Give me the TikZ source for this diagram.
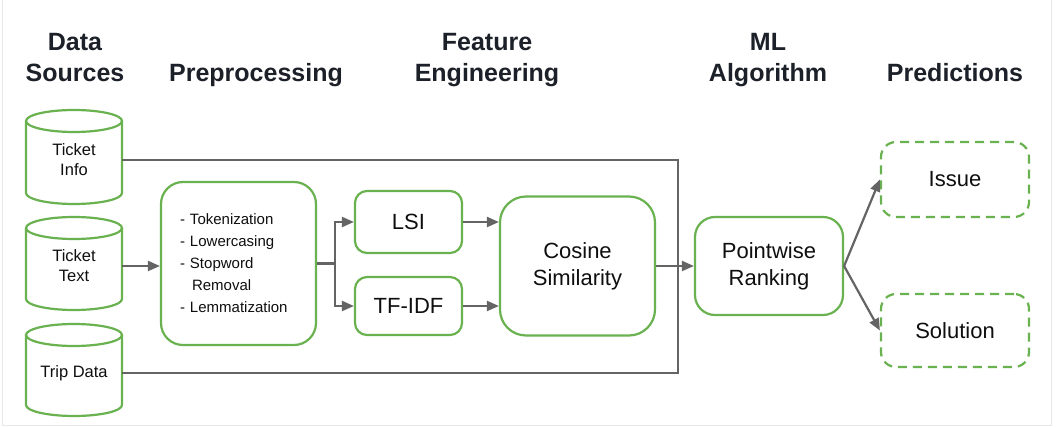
\documentclass[tikz,border=0pt]{standalone}
\usepackage{fontspec}
\setmainfont{Liberation Sans}
\usetikzlibrary{arrows.meta}
\definecolor{gr}{RGB}{106,178,80}
\definecolor{lnc}{RGB}{100,100,100}
\definecolor{ttl}{RGB}{28,32,40}
\definecolor{txt}{RGB}{15,15,15}
\newcommand\mycyl[3]{%
  \draw[cylline] (#1,#2+11) ellipse [x radius=48pt,y radius=11pt];
  \draw[cylline] (#1-48,#2+11) -- (#1-48,#3-11) arc[start angle=180,end angle=360,x radius=48pt,y radius=11pt] -- (#1+48,#2+11);}
\begin{document}
\begin{tikzpicture}[x=1pt,y=-1pt,
  cylline/.style={draw=gr, line width=2.2pt},
  cyltext/.style={minimum width=96pt, inner sep=0pt, align=center, text=txt, font=\fontsize{16.5}{20}\selectfont},
  gbox/.style={draw=gr, line width=2.2pt, rounded corners=#1, align=center, inner sep=0pt, text=txt, font=\fontsize{22}{27}\selectfont},
  gbox/.default=15pt,
  dbox/.style={gbox=#1, dash pattern=on 9pt off 6pt},
  dbox/.default=15pt,
  title/.style={anchor=south, inner sep=0pt, text depth=0pt, align=center, text=ttl, font=\fontsize{25}{31}\selectfont\bfseries},
  lnk/.style={draw=lnc, line width=2.2pt},
  arr/.style={lnk, -{Triangle[length=12pt,width=10pt]}}]
\useasboundingbox (0,0) rectangle (1057,427);
\fill[white] (0,0) rectangle (1057,427);
% screenshot frame
\draw[gray!18, line width=1pt] (2.5,0) -- (2.5,425) -- (1051.5,425) -- (1051.5,0);

% titles
\node[title] (t1) at (75,82) {Data\\Sources};
\node[title] (t2) at (256,82) {Preprocessing};
\node[title] (t3) at (487,82) {Feature\\Engineering};
\node[title] (t4) at (768,82) {ML\\Algorithm};
\node[title] (t5) at (955,82) {Predictions};

% data sources
\mycyl{74}{110}{204}
\mycyl{74}{217}{310}
\mycyl{74}{324}{416}
\node[cyltext] (ti) at (74,160) {Ticket\\Info};
\node[cyltext] (tt) at (74,266) {Ticket\\Text};
\node[cyltext] (td) at (74,373) {Trip Data};

% preprocessing
\node[gbox=22pt, minimum height=163pt, text width=117pt, inner xsep=19pt, align=left,
      font=\fontsize{15}{22}\selectfont] (pre) at (238.5,263.5)
  {- Tokenization\\- Lowercasing\\- Stopword\\\hspace*{12pt}Removal\\- Lemmatization};

% feature engineering
\node[gbox=12pt, minimum width=107pt, minimum height=62pt] (lsi) at (408.5,222) {LSI};
\node[gbox=12pt, minimum width=107pt, minimum height=58pt] (tfidf) at (408.5,306) {TF-IDF};
\node[gbox=26pt, minimum width=155pt, minimum height=139pt] (cos) at (577.5,266) {Cosine\\Similarity};

% ML algorithm
\node[gbox=20pt, minimum width=148pt, minimum height=98pt] (pw) at (769,266) {Pointwise\\Ranking};

% predictions
\node[dbox=15pt, minimum width=148pt, minimum height=75pt] (iss) at (955,179.5) {Issue};
\node[dbox=15pt, minimum width=148pt, minimum height=73pt] (sol) at (955,330.5) {Solution};

% connectors
\coordinate (bx) at (678,0);
\coordinate (sp) at (335,263.5);
\draw[lnk] (ti.east) -- (ti.east -| bx) -- (td.east -| bx) -- (td.east);
\draw[arr] (tt.east) -- (tt.east -| pre.west);
\draw[lnk] (pre.east) -- (sp);
\draw[arr] (sp) |- (lsi.west);
\draw[arr] (sp) |- (tfidf.west);
\draw[arr] (lsi.east) -- (lsi.east -| cos.west);
\draw[arr] (tfidf.east) -- (tfidf.east -| cos.west);
\draw[arr] (cos.east) -- (pw.west);
\draw[arr] (pw.east) -- (iss.west);
\draw[arr] (pw.east) -- (sol.west);
\end{tikzpicture}
\end{document}
